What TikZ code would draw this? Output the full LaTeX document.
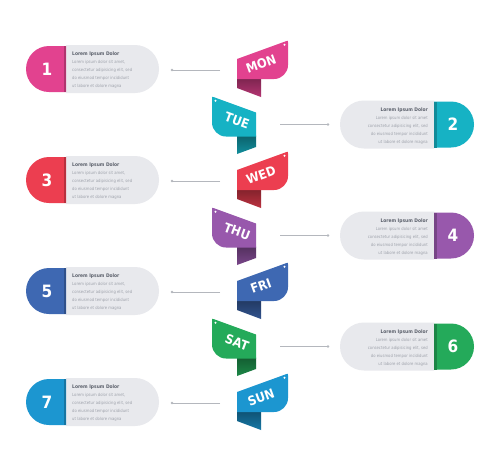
\documentclass[tikz,border=0pt]{standalone}
\usepackage{fontspec}
\setmainfont{DejaVu Sans Condensed}
\definecolor{c1}{HTML}{E2428F}
\definecolor{c2}{HTML}{16B2C4}
\definecolor{c3}{HTML}{EC3E50}
\definecolor{c4}{HTML}{9858AC}
\definecolor{c5}{HTML}{3E68B2}
\definecolor{c6}{HTML}{24AA5A}
\definecolor{c7}{HTML}{1C96D0}
\definecolor{boxgray}{HTML}{E8E9ED}
\definecolor{titlegray}{HTML}{5B606B}
\definecolor{bodygray}{HTML}{9DA1AA}
\definecolor{linegray}{HTML}{B4B7BD}
\tikzset{
  gbox/.style={fill=boxgray},
  ttl/.style={font=\fontsize{4.9}{5}\selectfont\bfseries, text=titlegray, inner sep=0},
  bdy/.style={font=\fontsize{4.2}{4.6}\selectfont, text=bodygray, inner sep=0},
  num/.style={font=\fontsize{17}{17}\selectfont\bfseries, text=white, inner sep=0},
  dayl/.style={font=\fontsize{12.8}{12.8}\selectfont\bfseries, text=white, inner sep=0},
  conn/.style={draw=linegray, line width=0.6pt},
  cdot/.style={circle, fill=linegray, inner sep=0, minimum size=2.6pt},
  rdot/.style={circle, fill=white, inner sep=0, minimum size=2.2pt},
}
\begin{document}
\begin{tikzpicture}[x=1pt,y=-1pt]
\useasboundingbox (0,0) rectangle (500,472);
\fill[white] (0,0) rectangle (500,472);

% ---------- odd rows (left panels, ribbons facing right)
\foreach \i/\col/\day in {1/c1/MON,3/c3/WED,5/c5/FRI,7/c7/SUN}{
  \pgfmathsetmacro\yc{69+(\i-1)*55.5}
  % panel
  \fill[gbox] (66,\yc-24) -- (135,\yc-24) arc[start angle=-90, end angle=90, radius=24] -- (66,\yc+24) -- cycle;
  \fill[\col] (66,\yc-23) -- (49,\yc-23) arc[start angle=-90, end angle=-270, radius=23] -- (66,\yc+23) -- cycle;
  \fill[\col!78!black] (63.5,\yc-23) rectangle (66,\yc+23);
  \node[num] (n\i) at (47,\yc) {\i};
  \node[ttl, anchor=base west] (t\i) at (72,\yc-13.5) {Lorem Ipsum Dolor};
  \node[bdy, anchor=base west] (a\i) at (72,\yc-5.5) {Lorem ipsum dolor sit amet,};
  \node[bdy, anchor=base west] (b\i) at (72,\yc+2.5) {consectetur adipisicing elit, sed};
  \node[bdy, anchor=base west] (c\i) at (72,\yc+10.5) {do eiusmod tempor incididunt};
  \node[bdy, anchor=base west] (d\i) at (72,\yc+18.5) {ut labore et dolore magna};
  % connector
  \coordinate (cs\i) at (220,\yc+1);
  \coordinate (ce\i) at (172,\yc+1);
  \draw[conn] (cs\i) -- (ce\i);
  \node[cdot] (cd\i) at (ce\i) {};
  % ribbon tail (fold)
  \shade[top color=\col!55!black, bottom color=\col!80!black]
    (237,\yc+9) -- (261,\yc+9) -- (261,\yc+28) -- (237,\yc+19) -- cycle;
  % ribbon face
  \fill[\col] (237,\yc+10) -- (237,\yc-10) -- (286,\yc-27.8)
    .. controls (288,\yc-28.6) .. (288,\yc-26.5) -- (288,\yc-4)
    .. controls (288,\yc+3.7) and (281.7,\yc+10) .. (274,\yc+10) -- cycle;
  \node[rdot] (rd\i) at (284.5,\yc-24.3) {};
  \node[dayl, rotate=20] (day\i) at (261,\yc-5) {\day};
}

% ---------- even rows (right panels, ribbons facing left)
\foreach \i/\col/\day in {2/c2/TUE,4/c4/THU,6/c6/SAT}{
  \pgfmathsetmacro\yc{69+(\i-1)*55.5}
  \fill[gbox] (434,\yc-24) -- (364,\yc-24) arc[start angle=-90, end angle=-270, radius=24] -- (434,\yc+24) -- cycle;
  \fill[\col] (434,\yc-23) -- (451,\yc-23) arc[start angle=-90, end angle=90, radius=23] -- (434,\yc+23) -- cycle;
  \fill[\col!78!black] (434,\yc-23) rectangle (436.5,\yc+23);
  \node[num] (n\i) at (453,\yc) {\i};
  \node[ttl, anchor=base east] (t\i) at (428,\yc-13.5) {Lorem Ipsum Dolor};
  \node[bdy, anchor=base east] (a\i) at (428,\yc-5.5) {Lorem ipsum dolor sit amet};
  \node[bdy, anchor=base east] (b\i) at (428,\yc+2.5) {consectetur adipisicing elit, sed};
  \node[bdy, anchor=base east] (c\i) at (428,\yc+10.5) {do eiusmod tempor incididunt};
  \node[bdy, anchor=base east] (d\i) at (428,\yc+18.5) {ut labore et dolore magna};
  \coordinate (cs\i) at (280,\yc);
  \coordinate (ce\i) at (328,\yc);
  \draw[conn] (cs\i) -- (ce\i);
  \node[cdot] (cd\i) at (ce\i) {};
  % ribbon tail (fold)
  \shade[top color=\col!55!black, bottom color=\col!80!black]
    (237,\yc+11) -- (256,\yc+11) -- (256,\yc+22.5) -- (237,\yc+29.5) -- cycle;
  % ribbon face
  \fill[\col] (256,\yc+12) -- (256,\yc-12) -- (214,\yc-27.3)
    .. controls (212,\yc-28) .. (212,\yc-25.8) -- (212,\yc-2)
    .. controls (212,\yc+5.7) and (218.3,\yc+12) .. (226,\yc+12) -- cycle;
  \node[rdot] (rd\i) at (215.5,\yc-23.8) {};
  \node[dayl, rotate=-20] (day\i) at (237,\yc-4) {\day};
}
\end{tikzpicture}
\end{document}
